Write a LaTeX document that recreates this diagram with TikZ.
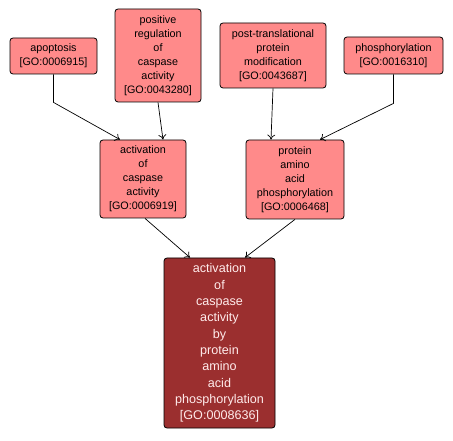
\documentclass[tikz,border=0pt]{standalone}
\usepackage{fontspec}
\setmainfont{Liberation Sans}
\usetikzlibrary{arrows.meta}
\definecolor{lightred}{RGB}{255,138,138}
\definecolor{darkred}{RGB}{155,47,47}
\begin{document}
\begin{tikzpicture}[x=1pt,y=1pt,
  term/.style={draw=black,line width=0.8pt,rounded corners=3pt,fill=lightred,inner sep=0pt,align=center,
    font=\fontsize{10.8}{14}\selectfont},
  dterm/.style={term,fill=darkred,text=white!92!red,font=\fontsize{12.6}{16.3}\selectfont},
  arr/.style={draw=black,line width=0.7pt,-{To[length=5pt,width=8pt]}}]
\useasboundingbox (0,0) rectangle (453,-441);
\node[term,minimum width=87pt,minimum height=36pt] (apo) at (53.5,-56) {apoptosis\\{[}GO:0006915{]}};
\node[term,minimum width=86pt,minimum height=93pt] (posreg) at (158,-55.5) {positive\\regulation\\of\\caspase\\activity\\{[}GO:0043280{]}};
\node[term,minimum width=106pt,minimum height=65pt] (ptm) at (273,-55.5) {post-translational\\protein\\modification\\{[}GO:0043687{]}};
\node[term,minimum width=99pt,minimum height=37pt] (phos) at (393.5,-55.5) {phosphorylation\\{[}GO:0016310{]}};
\node[term,minimum width=86pt,minimum height=78pt] (act) at (143,-179) {activation\\of\\caspase\\activity\\{[}GO:0006919{]}};
\node[term,minimum width=98pt,minimum height=79pt] (paap) at (295,-179.5) {protein\\amino\\acid\\phosphorylation\\{[}GO:0006468{]}};
\node[dterm,minimum width=111pt,minimum height=170pt] (bot) at (219.5,-343) {activation\\of\\caspase\\activity\\by\\protein\\amino\\acid\\phosphorylation\\{[}GO:0008636{]}};
\draw[arr] (apo.south) -- ++(0,-28) -- ([xshift=-23pt]act.north);
\draw[arr] (posreg.south) -- ([xshift=20pt]act.north);
\draw[arr] (ptm.south) -- ([xshift=-24pt]paap.north);
\draw[arr] (phos.south) -- ++(0,-29) -- ([xshift=25pt]paap.north);
\draw[arr] ([xshift=2pt]act.south) -- ([xshift=-29.5pt]bot.north);
\draw[arr] (paap.south) -- ([xshift=25.5pt]bot.north);
\end{tikzpicture}
\end{document}
